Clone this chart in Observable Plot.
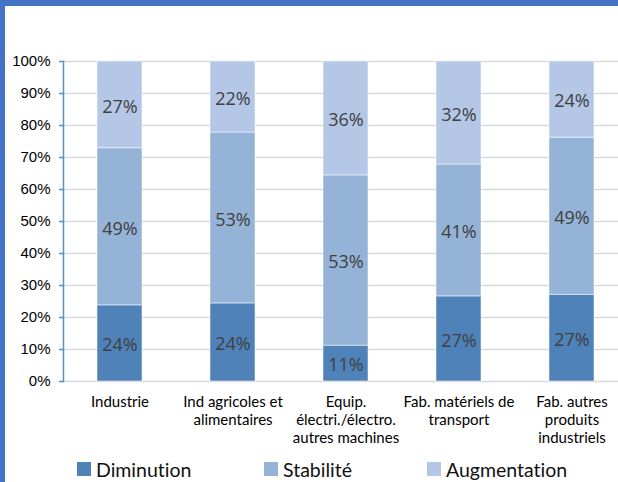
<!DOCTYPE html>
<html>
<head>
<meta charset="utf-8">
<script src="https://cdn.jsdelivr.net/npm/d3@7"></script>
<script src="https://cdn.jsdelivr.net/npm/@observablehq/plot@0.6"></script>
<style>
  html, body { margin: 0; padding: 0; background: #fff; overflow: hidden; }
  #wrap { position: relative; width: 618px; height: 482px; overflow: hidden; background: #fff; }
  #chart { position: absolute; left: 0; top: 0; width: 628px; }
  #chart svg { max-width: none !important; }
  #bt { position: absolute; left: 0; top: 0; width: 618px; height: 6px; background: #4472C4; }
  #bl { position: absolute; left: 0; top: 0; width: 5px; height: 482px; background: #4472C4; }
  #legend { position: absolute; top: 456px; left: 0; width: 618px; height: 26px;
            font-family: Lato, "Open Sans", sans-serif; font-size: 19.5px; color: #111;
            font-variant-ligatures: none; }
  .li { position: absolute; top: 0; display: flex; align-items: center; height: 26px; }
  .sw { width: 14px; height: 14px; margin-right: 5px; }
</style>
</head>
<body>
<div id="wrap">
  <div id="chart"></div>
  <div id="legend"></div>
  <div id="bt"></div>
  <div id="bl"></div>
</div>
<script>
const categories = [
  "Industrie",
  "Ind agricoles et\nalimentaires",
  "Equip.\nélectri./électro.\nautres machines",
  "Fab. matériels de\ntransport",
  "Fab. autres\nproduits\nindustriels"
];
const seriesNames = ["Diminution", "Stabilité", "Augmentation"];
const diminution   = [23.8, 24.4, 11.2, 26.6, 27.1];
const stabilite    = [49.1, 53.4, 53.2, 41.2, 49.1];
const augmentation = [27.1, 22.2, 35.6, 32.2, 23.8];
const yTicks = [0, 10, 20, 30, 40, 50, 60, 70, 80, 90, 100];
const colors = ["#4E82B9", "#95B3D7", "#B4C7E7"];

const seriesValues = [diminution, stabilite, augmentation];
const data = [];
seriesNames.forEach((s, i) => {
  categories.forEach((c, j) => {
    data.push({cat: c, series: s, value: seriesValues[i][j]});
  });
});

const chart = Plot.plot({
  width: 628,
  height: 455,
  marginLeft: 63,
  marginRight: 0,
  marginTop: 61,
  marginBottom: 74,
  style: {fontFamily: "Lato, 'Open Sans', sans-serif", background: "transparent", overflow: "visible", fontVariantLigatures: "none"},
  x: {domain: categories, paddingInner: 0.6, paddingOuter: 0.3, axis: null, label: null},
  y: {domain: [0, 100], axis: null, label: null},
  color: {domain: seriesNames, range: colors},
  marks: [
    Plot.gridY(yTicks, {stroke: "#d9d9d9", strokeOpacity: 1, strokeWidth: 1.5}),
    Plot.barY(data, {x: "cat", y: "value", fill: "series", order: seriesNames, stroke: "#ffffff", strokeOpacity: 0.5, strokeWidth: 1}),
    Plot.text(data, Plot.stackY({x: "cat", y: "value", z: "series", order: seriesNames,
      text: d => Math.round(d.value) + "%", fill: "#404040", fontSize: 18, dy: 2,
      fontFamily: "'Open Sans', sans-serif"})),
    Plot.axisY(yTicks, {tickSize: 4, tickPadding: 9, stroke: "#5B8FC5", strokeWidth: 1.5, label: null,
      tickFormat: d => d + "%", fontSize: 15, fill: "#000", fontFamily: "'Liberation Sans', Arial, sans-serif"}),
    Plot.axisX({tickSize: 0, tickPadding: 13, fontSize: 15, lineHeight: 1.2, fill: "#000", label: null,
      fontFamily: "Lato, 'Open Sans', sans-serif"}),
    Plot.frame({anchor: "left", stroke: "#5B8FC5", strokeWidth: 1.5})
  ]
});
document.getElementById("chart").appendChild(chart);

const legendX = [77, 264, 427];
const legend = document.getElementById("legend");
seriesNames.forEach((s, i) => {
  const item = document.createElement("div");
  item.className = "li";
  item.style.left = legendX[i] + "px";
  const sw = document.createElement("div");
  sw.className = "sw";
  sw.style.background = colors[i];
  const t = document.createElement("span");
  t.textContent = s;
  item.appendChild(sw);
  item.appendChild(t);
  legend.appendChild(item);
});
</script>
</body>
</html>
